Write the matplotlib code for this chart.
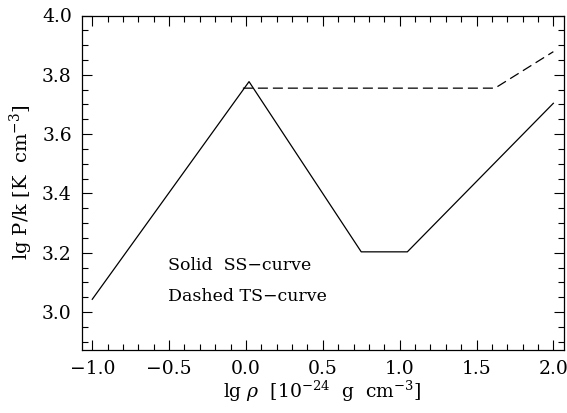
import matplotlib
matplotlib.use('Agg')
import matplotlib.pyplot as plt
from matplotlib.ticker import MultipleLocator

# SS-curve (solid) and TS-curve (dashed)
ss_rho = [-1.0, 0.02, 0.75, 1.05, 2.0]
ss_p = [3.043, 3.777, 3.203, 3.203, 3.704]
ts_rho = [-0.02, 1.62, 2.0]
ts_p = [3.755, 3.755, 3.878]

plt.rcParams['font.family'] = 'DejaVu Serif'
plt.rcParams['mathtext.fontset'] = 'dejavuserif'

fig = plt.figure(figsize=(5.67, 4.13), dpi=100)
ax = fig.add_axes([81.5 / 567, 1 - 350 / 413, (563.5 - 81.5) / 567, (350 - 15.5) / 413])

ax.plot(ss_rho, ss_p, color='black', lw=0.9)
ax.plot(ts_rho, ts_p, color='black', lw=0.9, dashes=(8, 4))

ax.set_xlim(-1.07, 2.066)
ax.set_ylim(2.872, 4.0)
ax.xaxis.set_major_locator(MultipleLocator(0.5))
ax.xaxis.set_minor_locator(MultipleLocator(0.1))
ax.yaxis.set_major_locator(MultipleLocator(0.2))
ax.yaxis.set_minor_locator(MultipleLocator(0.05))
ax.tick_params(which='both', direction='in', top=True, right=True, width=0.8)
ax.tick_params(which='major', length=7)
ax.tick_params(which='minor', length=4)
ax.tick_params(labelsize=13.5, pad=7)
ax.xaxis.set_major_formatter(plt.FuncFormatter(lambda v, p: f'{v:.1f}'.replace('-', '\u2212')))
ax.yaxis.set_major_formatter(plt.FuncFormatter(lambda v, p: f'{v:.1f}'))
for s in ax.spines.values():
    s.set_linewidth(0.9)

ax.set_xlabel(r'lg $\rho$  [10$^{-24}$  g  cm$^{-3}$]', fontsize=13.5, labelpad=1)
ax.set_ylabel(r'lg P/k [K  cm$^{-3}$]', fontsize=14, labelpad=5)

ax.text(-0.505, 3.157, 'Solid  SS\u2212curve', fontsize=12.5, va='center')
ax.text(-0.505, 3.052, 'Dashed TS\u2212curve', fontsize=12.5, va='center')

fig.savefig('out.png', dpi=100)
